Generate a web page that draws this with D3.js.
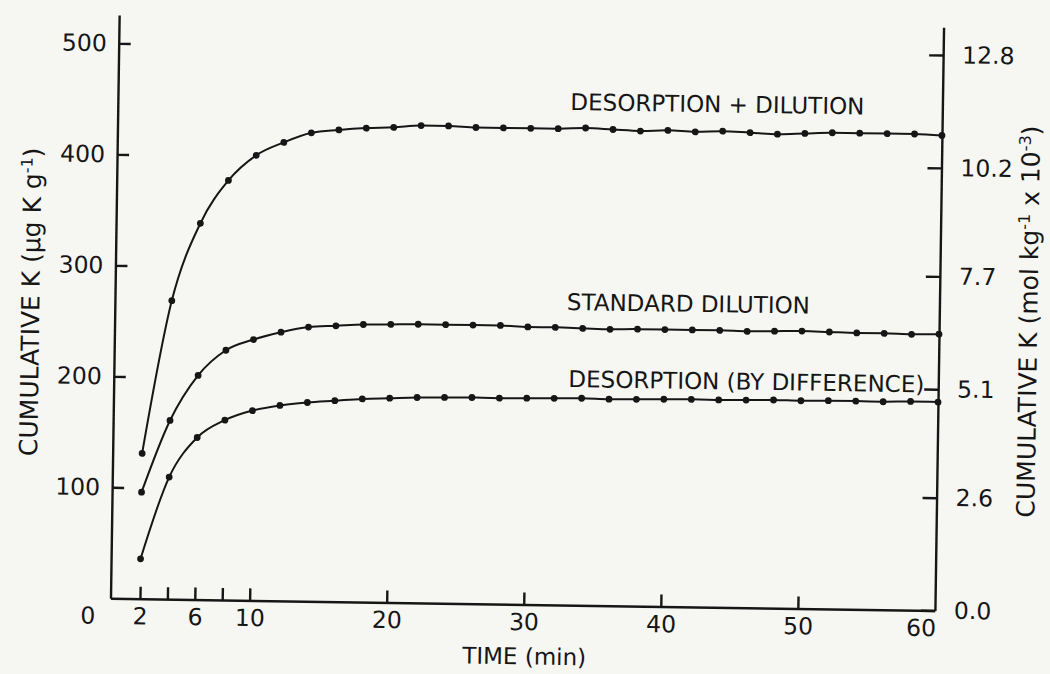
<!DOCTYPE html>
<meta charset="utf-8">
<style>
body { margin: 0; background: #f6f6f3; }
svg { display: block; }
.axis path, .axis line { stroke: #161616; stroke-width: 2.4; }
.axis text { font-family: 'DejaVu Sans', sans-serif; font-size: 23.5px; fill: #161616; }
.label { font-family: 'DejaVu Sans', sans-serif; font-size: 23px; fill: #161616; }
.title { font-size: 25px; }
.curve { fill: none; stroke: #161616; stroke-width: 2; }
.dot { fill: #161616; }
</style>
<body>
<script src="https://cdn.jsdelivr.net/npm/d3@7"></script>
<script>
// time (min) of each reading, one reading every 2 minutes
var times = [2, 4, 6, 8, 10, 12, 14, 16, 18, 20, 22, 24, 26, 28, 30,
    32, 34, 36, 38, 40, 42, 44, 46, 48, 50, 52, 54, 56, 58, 60]

// cumulative K, ug K per g
var desorptionDilution = [131, 269, 339, 378, 401, 413, 422, 425, 427, 428, 430, 430, 429, 429, 429,
    429, 430, 429, 428, 429, 428, 429, 428, 427, 428, 429, 429, 429, 429, 428]
var standardDilution = [96, 161, 202, 225, 235, 242, 247, 248.5, 250, 250.5, 251, 251, 251, 251, 250,
    250, 249.5, 249, 249.5, 249.5, 249.5, 249.5, 249, 249.5, 250, 249.5, 249, 249, 248.5, 249]
var desorptionByDifference = [36, 110, 146, 162, 171, 176, 179, 181, 183, 184, 185, 185.4, 185.7, 185.5, 185.8,
    186.1, 186.5, 186, 186.3, 186.7, 187, 186.8, 187.1, 187.5, 187.2, 187.6, 187.6, 187.4, 188, 187.8]

var seriesNames = ['DESORPTION + DILUTION', 'STANDARD DILUTION', 'DESORPTION (BY DIFFERENCE)']

var xTickValues = [0, 2, 4, 6, 8, 10, 20, 30, 40, 50, 60]
var xLabelValues = [0, 2, 6, 10, 20, 30, 40, 50, 60]
var leftTickValues = [100, 200, 300, 400, 500]
var rightTickValues = [0, 2.6, 5.1, 7.7, 10.2, 12.8]
var molarMassK = 39.1
var yMax = 525.5

var width = 1050
var height = 674
var originX = 110.5
var originY = 598.3
var rightX = 935
var topY = 15
var tilt = 0.85

var svg = d3.select('body')
    .append('svg')
    .attr('width', width)
    .attr('height', height)

// the scanned figure sits slightly rotated on the page
var g = svg.append('g')
    .attr('transform', 'rotate(' + tilt + ',' + originX + ',' + originY + ')')

var x = d3.scaleLinear().domain([-0.15, 60]).range([originX, rightX])
var y = d3.scaleLinear().domain([0, yMax]).range([originY, topY])
var yRight = d3.scaleLinear().domain([0, yMax / molarMassK]).range([originY, topY])

var xAxis = d3.axisBottom(x)
    .tickValues(xTickValues)
    .tickSizeInner(-12)
    .tickSizeOuter(0)
    .tickPadding(9)
    .tickFormat(function (d) { return xLabelValues.indexOf(d) === -1 ? '' : d })

var gx = g.append('g')
    .attr('class', 'axis')
    .attr('transform', 'translate(0,' + originY + ')')
    .call(xAxis)
gx.selectAll('.tick')
    .filter(function (d) { return d === 0 || d === 60 })
    .select('line').remove()
gx.selectAll('.tick text')
    .attr('dx', function (d) { return d === 0 ? -25 : (d === 60 ? -14 : 0) })

var leftAxis = d3.axisLeft(y)
    .tickValues(leftTickValues)
    .tickSizeInner(-12)
    .tickSizeOuter(0)
    .tickPadding(12)

g.append('g')
    .attr('class', 'axis')
    .attr('transform', 'translate(' + originX + ',0)')
    .call(leftAxis)

var rightAxis = d3.axisRight(yRight)
    .tickValues(rightTickValues)
    .tickSizeInner(-14)
    .tickSizeOuter(0)
    .tickPadding(19)
    .tickFormat(d3.format('.1f'))

g.append('g')
    .attr('class', 'axis')
    .attr('transform', 'translate(' + rightX + ',0)')
    .call(rightAxis)

g.selectAll('.axis').attr('font-size', null).attr('font-family', null)

var series = [desorptionDilution, standardDilution, desorptionByDifference].map(function (values, i) {
    return {
        name: seriesNames[i],
        points: values.map(function (v, j) { return { t: times[j], v: v } })
    }
})

var line = d3.line()
    .x(function (d) { return x(d.t) })
    .y(function (d) { return y(d.v) })
    .curve(d3.curveMonotoneX)

var curves = g.selectAll('.series')
    .data(series)
    .enter()
    .append('g')
    .attr('class', 'series')

curves.append('path')
    .attr('class', 'curve')
    .attr('d', function (d) { return line(d.points) })

curves.selectAll('.dot')
    .data(function (d) { return d.points })
    .enter()
    .append('circle')
    .attr('class', 'dot')
    .attr('cx', function (d) { return x(d.t) })
    .attr('cy', function (d) { return y(d.v) })
    .attr('r', 3.4)

// curve labels
var labelPos = [
    { x: 710, y: 95, anchor: 'middle' },
    { x: 684, y: 295, anchor: 'middle' },
    { x: 921, y: 372, anchor: 'end' }
]

g.selectAll('.curve-label')
    .data(series)
    .enter()
    .append('text')
    .attr('class', 'label curve-label')
    .attr('x', function (d, i) { return labelPos[i].x })
    .attr('y', function (d, i) { return labelPos[i].y })
    .attr('dy', '0.36em')
    .attr('text-anchor', function (d, i) { return labelPos[i].anchor })
    .text(function (d) { return d.name })

g.append('text')
    .attr('class', 'label')
    .style('font-size', '23px')
    .attr('x', 525)
    .attr('y', 650)
    .attr('dy', '0.36em')
    .attr('text-anchor', 'middle')
    .text('TIME (min)')

function axisTitle(cx, cy, parts) {
    var t = g.append('text')
        .attr('class', 'label title')
        .attr('text-anchor', 'middle')
        .attr('transform', 'translate(' + cx + ',' + cy + ') rotate(-90)')
        .attr('dy', '0.36em')
    parts.forEach(function (p) {
        var s = t.append('tspan').text(p[0])
        if (p[1] === 'sup') {
            s.attr('dy', -9).attr('font-size', '16px')
        } else if (p[1] === 'back') {
            s.attr('dy', 9)
        }
    })
}

axisTitle(26, 303, [['CUMULATIVE K (\u00b5g K g'], ['-1', 'sup'], [')', 'back']])
axisTitle(1024, 308, [['CUMULATIVE K (mol kg'], ['-1', 'sup'], [' x 10', 'back'], ['-3', 'sup'], [')', 'back']])
</script>
</body>
